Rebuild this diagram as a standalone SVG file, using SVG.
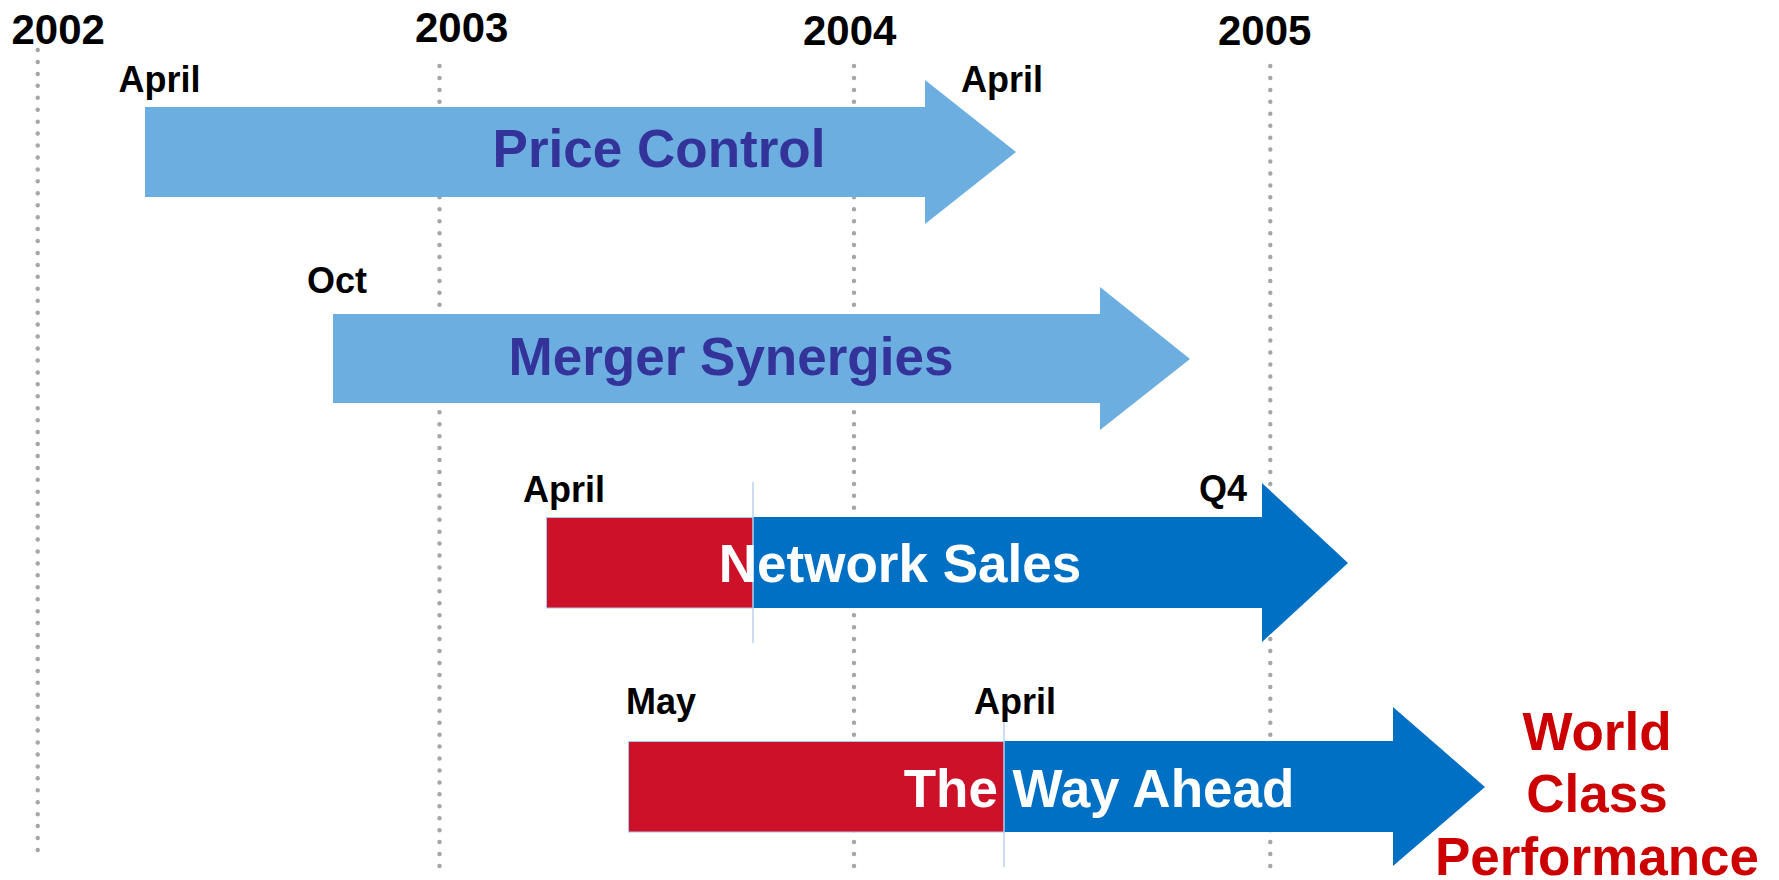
<svg xmlns="http://www.w3.org/2000/svg" width="1779" height="880" viewBox="0 0 1779 880">
<style>
.grid{stroke:#a6a6a6;stroke-width:4.5;stroke-linecap:round;stroke-dasharray:0 11.94;fill:none}
.yr{font-family:"Liberation Sans",Arial,sans-serif;font-weight:bold;font-size:42px;fill:#000}
.lbl{font-family:"Liberation Sans",Arial,sans-serif;font-weight:bold;font-size:36px;fill:#000}
.title{font-family:"Liberation Sans",Arial,sans-serif;font-weight:bold;font-size:53px;text-anchor:middle}
.lt{fill:#6caee0}
.dk{fill:#0070c4}
.rd{fill:#cc1128;stroke:#a9c8e8;stroke-width:1}
.div{stroke:#a9c8e8;stroke-width:1.2}
</style>
<rect width="1779" height="880" fill="#fff"/>
<g id="grid">
<line class="grid" x1="37.7" y1="50" x2="37.7" y2="850"/>
<line class="grid" x1="439.5" y1="66" x2="439.5" y2="866"/>
<line class="grid" x1="854" y1="66" x2="854" y2="866"/>
<line class="grid" x1="1270.3" y1="66" x2="1270.3" y2="866"/>
</g>
<g id="years">
<text class="yr" x="11.5" y="44">2002</text>
<text class="yr" x="415" y="41.5">2003</text>
<text class="yr" x="803" y="45">2004</text>
<text class="yr" x="1218" y="45">2005</text>
</g>
<g id="price-control">
<polygon class="lt" points="145,107 925,107 925,80 1016,152 925,224 925,197 145,197"/>
<text class="title" x="659" y="167" fill="#333399">Price Control</text>
<text class="lbl" x="118.5" y="91.5">April</text>
<text class="lbl" x="961" y="91.5">April</text>
</g>
<g id="merger-synergies">
<polygon class="lt" points="333,314 1100,314 1100,287 1190,359 1100,430 1100,403 333,403"/>
<text class="title" x="731" y="375" fill="#333399">Merger Synergies</text>
<text class="lbl" x="307" y="293">Oct</text>
</g>
<g id="network-sales">
<polygon class="dk" points="753,517 1262,517 1262,483 1348,563 1262,642 1262,608 753,608"/>
<rect class="rd" x="546.5" y="517.5" width="206.5" height="90.5"/>
<line class="div" x1="753" y1="482" x2="753" y2="643"/>
<text class="title" x="900" y="582" fill="#fff">Network Sales</text>
<text class="lbl" x="523" y="501.5">April</text>
<text class="lbl" x="1199" y="501">Q4</text>
</g>
<g id="way-ahead">
<polygon class="dk" points="1004,741 1393,741 1393,707 1485,787 1393,866 1393,832 1004,832"/>
<rect class="rd" x="628.5" y="741.5" width="375.5" height="90.5"/>
<line class="div" x1="1004" y1="705" x2="1004" y2="867"/>
<text class="title" x="1099" y="807" fill="#fff">The Way Ahead</text>
<text class="lbl" x="626" y="714">May</text>
<text class="lbl" x="974" y="714">April</text>
</g>
<g id="world-class">
<text class="title" x="1597" fill="#cc0000"><tspan x="1597" y="750">World</tspan><tspan x="1597" y="812">Class</tspan><tspan x="1597" y="875">Performance</tspan></text>
</g>
<g id="connectors"></g>
</svg>
